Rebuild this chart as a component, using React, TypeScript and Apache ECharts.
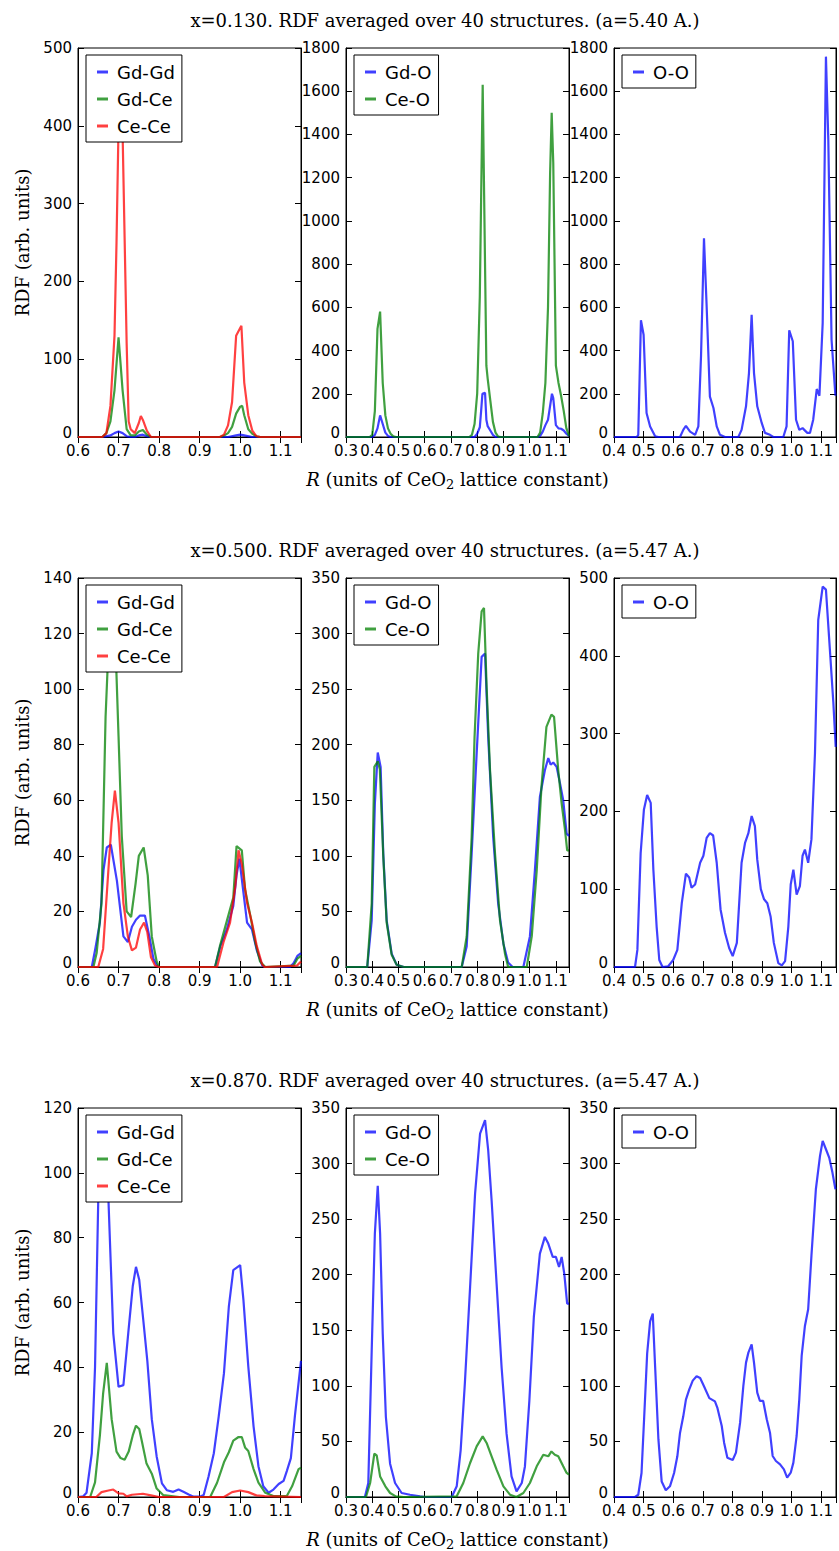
import React, { useEffect, useRef } from 'react';
import * as echarts from 'echarts';

// ---------- data ----------
const rowTitles = [
  'x=0.130. RDF averaged over 40 structures. (a=5.40 A.)',
  'x=0.500. RDF averaged over 40 structures. (a=5.47 A.)',
  'x=0.870. RDF averaged over 40 structures. (a=5.47 A.)',
];
const xMins = [0.6, 0.3, 0.4];
const xMax = 1.15;
const xInterval = 0.1;
const yMaxes = [[500, 1800, 1800], [140, 350, 500], [120, 350, 350]];
const yIntervals = [[100, 200, 200], [20, 50, 100], [20, 50, 50]];

// Row 1 (x = 0.130)
const r1GdGd = [[0.6,0],[0.66,0],[0.68,2],[0.69,5],[0.70,7],[0.71,5],[0.72,1],[0.73,0],[0.74,0],[0.75,2],[0.76,3],[0.77,1],[0.78,0],[0.97,0],[0.99,2],[1.00,3],[1.01,2],[1.03,0],[1.15,0]];
const r1GdCe = [[0.6,0],[0.66,0],[0.67,5],[0.68,20],[0.69,60],[0.70,128],[0.71,60],[0.72,10],[0.73,2],[0.74,2],[0.75,7],[0.76,9],[0.77,3],[0.78,0],[0.95,0],[0.96,2],[0.97,5],[0.98,13],[0.99,30],[1.00,39],[1.005,40],[1.01,28],[1.02,10],[1.03,4],[1.04,1],[1.05,0],[1.15,0]];
const r1CeCe = [[0.6,0],[0.66,0],[0.67,5],[0.68,40],[0.69,130],[0.695,250],[0.70,400],[0.705,410],[0.71,390],[0.72,120],[0.725,20],[0.73,10],[0.74,5],[0.75,18],[0.755,27],[0.76,22],[0.77,8],[0.78,0],[0.95,0],[0.96,3],[0.97,15],[0.98,45],[0.99,130],[1.00,140],[1.003,143],[1.01,70],[1.02,28],[1.03,8],[1.04,1],[1.05,0],[1.15,0]];
const r1GdO = [[0.3,0],[0.40,0],[0.41,10],[0.42,40],[0.43,100],[0.44,60],[0.45,20],[0.46,5],[0.47,0],[0.79,0],[0.80,15],[0.81,45],[0.815,120],[0.82,200],[0.83,205],[0.835,80],[0.84,50],[0.85,30],[0.86,10],[0.87,0],[1.03,0],[1.04,5],[1.05,25],[1.06,55],[1.07,80],[1.08,160],[1.085,200],[1.09,180],[1.10,55],[1.11,40],[1.12,38],[1.13,30],[1.14,15],[1.15,5]];
const r1CeO = [[0.3,0],[0.39,0],[0.40,10],[0.41,120],[0.42,500],[0.43,580],[0.44,250],[0.45,100],[0.46,40],[0.47,15],[0.48,3],[0.49,0],[0.77,0],[0.78,10],[0.79,60],[0.80,200],[0.81,650],[0.815,1100],[0.821,1630],[0.835,330],[0.84,270],[0.85,170],[0.86,70],[0.87,20],[0.88,2],[0.89,0],[1.03,0],[1.04,20],[1.05,110],[1.06,250],[1.07,600],[1.078,1220],[1.084,1500],[1.09,1270],[1.10,330],[1.11,250],[1.12,190],[1.13,120],[1.14,40],[1.15,5]];
const r1OO = [[0.4,0],[0.477,0],[0.482,10],[0.491,540],[0.50,473],[0.51,111],[0.522,49],[0.539,3],[0.55,0],[0.623,0],[0.634,33],[0.643,52],[0.657,25],[0.674,10],[0.685,49],[0.694,375],[0.704,920],[0.713,604],[0.724,187],[0.736,134],[0.747,49],[0.758,10],[0.775,0],[0.82,0],[0.831,33],[0.846,142],[0.856,296],[0.865,566],[0.873,296],[0.884,142],[0.899,65],[0.91,19],[0.927,10],[0.938,0],[0.972,0],[0.983,49],[0.992,494],[1.004,443],[1.015,80],[1.026,33],[1.037,41],[1.053,19],[1.062,19],[1.073,80],[1.085,222],[1.094,191],[1.105,527],[1.116,1760],[1.124,1375],[1.135,450],[1.148,191]];

// Row 2 (x = 0.500)
const r2GdGd = [[0.6,0],[0.634,0],[0.642,6],[0.654,16],[0.663,35],[0.671,43],[0.681,44],[0.696,31],[0.712,11],[0.723,9],[0.733,14.5],[0.743,17],[0.753,18.5],[0.765,18.5],[0.776,11],[0.786,3],[0.794,0.7],[0.80,0],[0.938,0],[0.951,7.5],[0.967,13.5],[0.983,22],[0.991,33],[0.998,39],[1.007,28],[1.017,16],[1.029,13.5],[1.041,6],[1.054,0.7],[1.06,0],[1.123,0],[1.132,1.4],[1.141,4],[1.15,5]];
const r2GdCe = [[0.6,0],[0.638,0],[0.646,5],[0.658,23],[0.668,90],[0.676,118],[0.685,126],[0.692,118],[0.70,83],[0.708,47],[0.72,20],[0.731,18],[0.742,30],[0.75,40],[0.762,43],[0.772,33],[0.782,11],[0.794,2],[0.80,0],[0.938,0],[0.95,7.5],[0.967,16.5],[0.983,25],[0.991,43.5],[1.004,42],[1.012,28],[1.025,18.5],[1.037,9],[1.049,2],[1.062,0],[1.132,0.5],[1.141,3],[1.15,4]];
const r2CeCe = [[0.6,0],[0.65,0],[0.662,6.5],[0.675,35],[0.683,52],[0.691,63.5],[0.70,52],[0.712,23],[0.723,11],[0.733,6],[0.743,7],[0.753,13.5],[0.763,16],[0.771,12.5],[0.78,3.5],[0.79,0.5],[0.80,0],[0.943,0],[0.959,9],[0.975,16],[0.988,29],[0.996,42],[1.004,37],[1.017,23],[1.029,16],[1.041,7.5],[1.054,1],[1.06,0],[1.14,0.5],[1.15,2]];
const r2GdO = [[0.3,0],[0.381,0],[0.398,42],[0.41,147],[0.421,193],[0.432,180],[0.442,102],[0.455,42],[0.474,12],[0.493,2],[0.52,0],[0.741,0],[0.76,18.5],[0.779,102],[0.798,192],[0.817,279],[0.83,282],[0.842,207],[0.861,117],[0.88,57],[0.90,21],[0.918,4],[0.935,0],[0.976,0],[1.001,27.5],[1.02,87],[1.039,153],[1.058,177],[1.071,188],[1.08,182],[1.09,184],[1.103,180],[1.116,165],[1.128,150],[1.141,120],[1.15,118]];
const r2CeO = [[0.3,0],[0.381,0],[0.398,57],[0.408,180],[0.421,185],[0.429,178],[0.442,100],[0.455,40],[0.474,11],[0.493,2],[0.52,0],[0.741,0],[0.76,27.5],[0.779,117],[0.79,207],[0.804,282],[0.817,320],[0.826,323],[0.836,252],[0.849,177],[0.868,102],[0.887,42],[0.906,12],[0.918,0],[0.989,0],[1.008,27.5],[1.027,87],[1.045,162],[1.064,216],[1.083,227],[1.093,225],[1.109,177],[1.122,147],[1.135,123],[1.143,105],[1.15,105]];
const r2OO = [[0.4,0],[0.471,0],[0.479,22],[0.49,146],[0.501,202],[0.512,221],[0.524,211],[0.533,125],[0.544,52],[0.553,9],[0.564,0],[0.583,1],[0.60,9],[0.614,22],[0.629,82],[0.643,120],[0.654,115],[0.662,102],[0.674,106],[0.691,134],[0.702,143],[0.713,166],[0.724,172],[0.735,169],[0.747,134],[0.76,74],[0.775,44],[0.789,24.5],[0.801,14],[0.815,31],[0.831,134],[0.843,160],[0.854,172],[0.865,194],[0.876,181],[0.884,138],[0.896,100],[0.907,87],[0.918,82],[0.929,65],[0.94,31],[0.955,5],[0.967,2],[0.978,7.5],[0.989,52],[0.997,106],[1.006,125],[1.017,93],[1.028,104],[1.037,143],[1.045,151],[1.056,134],[1.067,164],[1.079,275],[1.09,446],[1.105,489],[1.116,485],[1.13,404],[1.141,340],[1.149,283]];

// Row 3 (x = 0.870)
const r3GdGd = [[0.6,0],[0.613,0.2],[0.621,1.3],[0.634,13.5],[0.642,40],[0.65,92],[0.66,106],[0.668,106],[0.675,92],[0.687,50.5],[0.70,34],[0.712,34.5],[0.724,50.6],[0.735,65],[0.743,71],[0.751,67],[0.761,54.6],[0.771,42],[0.782,24],[0.794,12.5],[0.807,4.2],[0.819,2.1],[0.835,1.6],[0.848,2.3],[0.86,1.6],[0.873,0.8],[0.885,0.1],[0.90,0.1],[0.91,0.6],[0.922,6.3],[0.935,13.5],[0.947,24.8],[0.96,38.2],[0.972,58.7],[0.983,70],[0.994,71],[1.0,71.5],[1.008,60.8],[1.02,40.3],[1.033,21.8],[1.045,9.5],[1.057,3.3],[1.07,1.3],[1.082,2.3],[1.095,4],[1.107,5],[1.115,8],[1.125,12],[1.135,25],[1.15,42]];
const r3GdCe = [[0.6,0],[0.63,0],[0.642,4.5],[0.654,19],[0.662,32],[0.671,41.4],[0.683,24],[0.695,14],[0.705,12],[0.715,11.5],[0.725,14],[0.735,19],[0.743,22],[0.751,21],[0.757,17.5],[0.769,10.3],[0.782,7.2],[0.794,2.6],[0.81,0.6],[0.85,0],[0.926,0],[0.943,4.4],[0.96,10.7],[0.972,13.8],[0.983,17.4],[0.996,18.5],[1.004,18.5],[1.012,15.3],[1.02,14.2],[1.033,8.6],[1.045,4.4],[1.062,1.3],[1.082,0.3],[1.115,0.3],[1.128,3.3],[1.144,8.6],[1.15,9]];
const r3CeCe = [[0.6,0],[0.645,0],[0.658,1.5],[0.675,2],[0.687,2.3],[0.70,1.1],[0.712,1],[0.72,0.2],[0.733,0.7],[0.76,1],[0.78,0.5],[0.80,0],[0.96,0],[0.98,1.5],[1.0,2],[1.02,1.5],[1.04,0.5],[1.06,0.3],[1.15,0]];
const r3GdO = [[0.3,0],[0.372,0],[0.385,12.6],[0.398,132],[0.41,237],[0.421,280],[0.43,237],[0.44,147],[0.452,72],[0.468,30],[0.487,12.6],[0.512,3.6],[0.544,2],[0.582,0.6],[0.60,0],[0.703,0],[0.722,9.6],[0.737,42],[0.753,102],[0.773,189],[0.792,273],[0.811,327],[0.83,339],[0.842,312],[0.855,267],[0.874,192],[0.893,117],[0.912,57],[0.931,18.5],[0.95,5],[0.97,12.6],[0.982,27.5],[0.999,87],[1.016,162],[1.039,219],[1.058,234],[1.071,228],[1.088,216],[1.1,216],[1.112,207],[1.122,216],[1.132,201],[1.143,174],[1.15,174]];
const r3CeO = [[0.3,0],[0.376,0],[0.392,12.6],[0.408,39],[0.417,37.5],[0.43,18.5],[0.45,9.6],[0.468,3.6],[0.49,0.6],[0.52,0],[0.722,0.6],[0.747,12.6],[0.773,30.6],[0.798,45.6],[0.821,54.6],[0.836,48.6],[0.855,36.6],[0.874,24.6],[0.90,9.6],[0.925,2.1],[0.95,0],[0.976,3.6],[1.001,12.6],[1.027,27.6],[1.052,38],[1.071,36.6],[1.083,41],[1.096,38],[1.109,36.6],[1.128,27.6],[1.14,22],[1.15,20]];
const r3OO = [[0.4,0],[0.471,0],[0.482,2],[0.493,21.6],[0.502,72],[0.512,129],[0.522,158],[0.531,165],[0.539,117],[0.55,52],[0.561,14],[0.575,6],[0.589,9.6],[0.603,21.6],[0.614,36.6],[0.623,57.6],[0.634,72.6],[0.643,87.6],[0.654,96.6],[0.666,104.7],[0.679,108.6],[0.691,107],[0.704,99.6],[0.722,89],[0.741,86],[0.749,80.5],[0.764,63.9],[0.772,48.9],[0.783,35.4],[0.801,33.3],[0.812,39.9],[0.826,66.9],[0.837,99.9],[0.846,120.9],[0.854,129.9],[0.865,137.4],[0.873,120.9],[0.884,93.9],[0.893,86.4],[0.904,86.4],[0.916,69.9],[0.927,57.9],[0.936,36.9],[0.947,32.4],[0.961,29.4],[0.974,24.9],[0.985,17.4],[0.997,21.9],[1.006,30.9],[1.017,54.9],[1.026,87.9],[1.034,126.9],[1.045,153.9],[1.056,168.9],[1.067,216.9],[1.082,276.9],[1.096,306.9],[1.105,320.4],[1.116,312.9],[1.127,305.4],[1.138,291.9],[1.148,276.9]];

const BLUE = 'rgba(0,0,255,0.75)';
const GREEN = 'rgba(0,128,0,0.75)';
const RED = 'rgba(255,0,0,0.75)';

const panels = [
  [
    [{ name: 'Gd-Gd', data: r1GdGd, color: BLUE }, { name: 'Gd-Ce', data: r1GdCe, color: GREEN }, { name: 'Ce-Ce', data: r1CeCe, color: RED }],
    [{ name: 'Gd-O', data: r1GdO, color: BLUE }, { name: 'Ce-O', data: r1CeO, color: GREEN }],
    [{ name: 'O-O', data: r1OO, color: BLUE }],
  ],
  [
    [{ name: 'Gd-Gd', data: r2GdGd, color: BLUE }, { name: 'Gd-Ce', data: r2GdCe, color: GREEN }, { name: 'Ce-Ce', data: r2CeCe, color: RED }],
    [{ name: 'Gd-O', data: r2GdO, color: BLUE }, { name: 'Ce-O', data: r2CeO, color: GREEN }],
    [{ name: 'O-O', data: r2OO, color: BLUE }],
  ],
  [
    [{ name: 'Gd-Gd', data: r3GdGd, color: BLUE }, { name: 'Gd-Ce', data: r3GdCe, color: GREEN }, { name: 'Ce-Ce', data: r3CeCe, color: RED }],
    [{ name: 'Gd-O', data: r3GdO, color: BLUE }, { name: 'Ce-O', data: r3CeO, color: GREEN }],
    [{ name: 'O-O', data: r3OO, color: BLUE }],
  ],
];

// ---------- layout ----------
const W = 839;
const H = 1551;
const colLeft = [78, 346, 614];
const colWidth = [223, 223, 222];
const rowTop = [48, 578, 1108];
const panelH = 389;
const SANS = 'DejaVu Sans';
const SERIF = 'DejaVu Serif';

function buildOption() {
  const grid: any[] = [];
  const xAxis: any[] = [];
  const yAxis: any[] = [];
  const series: any[] = [];
  const legend: any[] = [];
  const graphic: any[] = [];

  const tickStyle = { show: true, inside: true, length: 6, lineStyle: { color: '#000', width: 1 } };
  const lineStyle = { show: true, lineStyle: { color: '#000', width: 1 } };
  const xFmt = (v: number) => {
    const k = Math.round(v * 10);
    return Math.abs(v * 10 - k) < 1e-6 ? (k / 10).toFixed(1) : '';
  };
  // the zero label is lifted a little so it clears the first x tick label
  const yFmt = (v: number) => (v === 0 ? '{z|0}' : String(Math.round(v)));

  for (let r = 0; r < 3; r++) {
    for (let c = 0; c < 3; c++) {
      const gi = r * 3 + c;
      grid.push({
        left: colLeft[c], top: rowTop[r], width: colWidth[c], height: panelH,
        show: true, borderColor: '#000', borderWidth: 1, backgroundColor: '#fff',
      });
      const xBase = {
        type: 'value', gridIndex: gi, min: xMins[c], max: xMax, interval: xInterval,
        splitLine: { show: false }, axisLine: lineStyle, axisTick: tickStyle,
      };
      xAxis.push({
        ...xBase, position: 'bottom',
        axisLabel: { show: true, formatter: xFmt, color: '#000', fontFamily: SANS, fontSize: 15, margin: 8, lineHeight: 11 },
      });
      xAxis.push({ ...xBase, position: 'top', axisLabel: { show: false } });
      const yBase = {
        type: 'value', gridIndex: gi, min: 0, max: yMaxes[r][c], interval: yIntervals[r][c],
        splitLine: { show: false }, axisLine: lineStyle, axisTick: tickStyle,
      };
      yAxis.push({
        ...yBase, position: 'left',
        axisLabel: {
          show: true, formatter: yFmt, color: '#000', fontFamily: SANS, fontSize: 15, margin: 6, lineHeight: 10,
          rich: { z: { fontFamily: SANS, fontSize: 15, lineHeight: 10, color: '#000', padding: [0, 0, 8, 0] } },
        },
      });
      yAxis.push({ ...yBase, position: 'right', axisLabel: { show: false } });

      const list = panels[r][c];
      list.forEach((s) => {
        series.push({
          type: 'line', name: s.name, data: s.data, xAxisIndex: gi * 2, yAxisIndex: gi * 2,
          showSymbol: false, symbol: 'none', color: s.color, silent: true, clip: true,
          lineStyle: { color: s.color, width: 2.2 },
        });
      });
      legend.push({
        data: list.map((s) => s.name),
        left: colLeft[c] + 8, top: rowTop[r] + 7,
        orient: 'vertical', icon: 'rect', itemWidth: 11, itemHeight: 3, itemGap: 9,
        padding: [8, 7, 7, 11], borderColor: '#000', borderWidth: 1, borderRadius: 0,
        backgroundColor: '#fff', selectedMode: false,
        textStyle: { fontFamily: SANS, fontSize: 18, color: '#000', lineHeight: 18, padding: [0, 0, 0, 4] },
      });
    }

    // row title
    graphic.push({
      type: 'text', x: 445, y: 20 + r * 530, z: 10,
      style: {
        text: rowTitles[r], fill: '#000', font: `18px "${SERIF}"`,
        align: 'center', verticalAlign: 'middle', textAlign: 'center', textVerticalAlign: 'middle',
      },
    });
    // y label
    graphic.push({
      type: 'text', x: 22, y: rowTop[r] + panelH / 2, rotation: Math.PI / 2, z: 10,
      style: {
        text: 'RDF (arb. units)', fill: '#000', font: `18px "${SERIF}"`,
        align: 'center', verticalAlign: 'middle', textAlign: 'center', textVerticalAlign: 'middle',
      },
    });
    // x label
    graphic.push({
      type: 'text', x: 457.5, y: 479 + r * 530, z: 10,
      style: {
        text: '{it|R}{n| (units of CeO}{sub|2}{n| lattice constant)}',
        fill: '#000',
        align: 'center', verticalAlign: 'middle', textAlign: 'center', textVerticalAlign: 'middle',
        rich: {
          it: { fontFamily: SERIF, fontSize: 18, fontStyle: 'italic', lineHeight: 24, verticalAlign: 'middle', fill: '#000' },
          n: { fontFamily: SERIF, fontSize: 18, lineHeight: 24, verticalAlign: 'middle', fill: '#000' },
          sub: { fontFamily: SERIF, fontSize: 13, lineHeight: 13, verticalAlign: 'bottom', fill: '#000' },
        },
      },
    });
  }

  return { animation: false, backgroundColor: '#fff', grid, xAxis, yAxis, series, legend, graphic };
}

export default function App() {
  const ref = useRef<HTMLDivElement>(null);
  useEffect(() => {
    document.body.style.margin = '0';
    if (!ref.current) return;
    const chart = echarts.init(ref.current, undefined, { renderer: 'svg', width: W, height: H });
    chart.setOption(buildOption() as any);
    return () => chart.dispose();
  }, []);
  return <div ref={ref} style={{ position: 'absolute', left: 0, top: 0, width: W, height: H }} />;
}
